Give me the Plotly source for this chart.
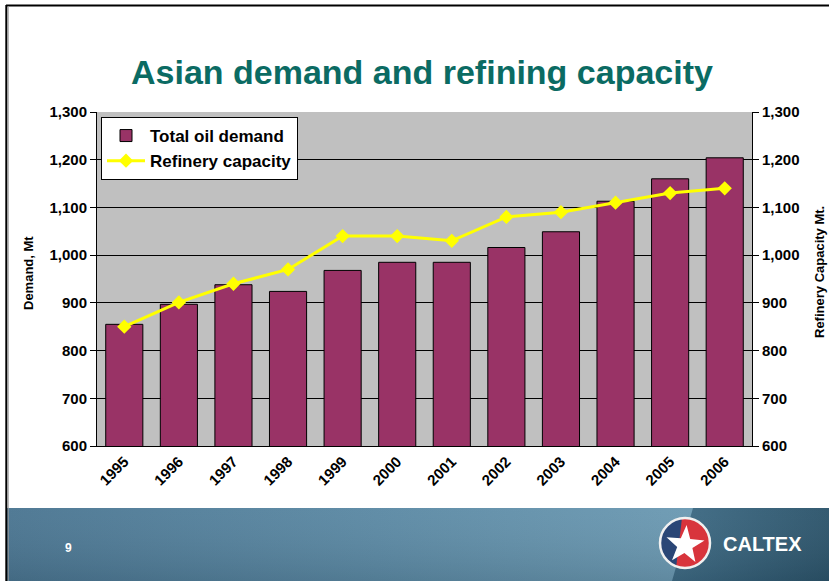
import base64
import math
import plotly.graph_objects as go

# ---- data -------------------------------------------------------------
years = ["1995", "1996", "1997", "1998", "1999", "2000",
         "2001", "2002", "2003", "2004", "2005", "2006"]
oil_demand = [855, 897, 938, 924, 968, 985, 985, 1016, 1049, 1113, 1160, 1204]
refinery_capacity = [850, 901, 940, 970, 1040, 1040, 1030, 1080, 1090, 1110, 1130, 1140]

y_ticks = [600, 700, 800, 900, 1000, 1100, 1200, 1300]

# ---- page geometry (pixels) ------------------------------------------
W, H = 829, 581
PL, PR, PT, PB = 97, 752, 112, 446  # plot area edges


def px(x):
    return (x - PL) / (PR - PL)


def py(y):
    return (PB - y) / (PB - PT)


FONT = "Liberation Sans, Arial, sans-serif"

fig = go.Figure()

fig.add_trace(go.Bar(
    x=years, y=oil_demand, name="Total oil demand",
    marker=dict(color="#993366", line=dict(color="#000000", width=1)),
    yaxis="y",
))
fig.add_trace(go.Scatter(
    x=years, y=refinery_capacity, name="Refinery capacity",
    mode="lines+markers",
    line=dict(color="#FFFF00", width=3),
    marker=dict(symbol="diamond", size=11, color="#FFFF00"),
    yaxis="y2",
))

axis_common = dict(
    range=[600, 1300], tickvals=y_ticks, tickformat=",d",
    ticks="outside", ticklen=6, tickcolor="#000000",
    showline=True, linecolor="#000000", linewidth=1,
    tickfont=dict(family=FONT, size=15, color="#000000", weight="bold"),
    zeroline=False, fixedrange=True,
)

fig.update_layout(
    width=W, height=H,
    margin=dict(l=PL, r=W - PR, t=PT, b=H - PB),
    paper_bgcolor="#FFFFFF",
    plot_bgcolor="#C0C0C0",
    bargap=0.32,
    title=dict(
        text="Asian demand and refining capacity",
        x=0.509, xref="container", xanchor="center",
        y=1 - 72 / H, yref="container", yanchor="middle",
        font=dict(family=FONT, size=34, color="#0B6B63", weight="bold"),
    ),
    xaxis=dict(
        range=[-0.5, len(years) - 0.5],
        showline=True, linecolor="#000000", linewidth=1,
        tickangle=-45, ticks="",
        tickfont=dict(family=FONT, size=15, color="#000000", weight="bold"),
        showgrid=False, fixedrange=True,
    ),
    yaxis=dict(showgrid=True, gridcolor="#000000", gridwidth=1, **axis_common),
    yaxis2=dict(overlaying="y", side="right", showgrid=False, **axis_common),
    legend=dict(
        x=px(101), y=py(117), xanchor="left", yanchor="top",
        bgcolor="#FFFFFF", bordercolor="#000000", borderwidth=1,
        font=dict(family=FONT, size=17, color="#000000", weight="bold"),
        itemwidth=38, tracegroupgap=0,
    ),
    showlegend=True,
)

# ---- axis titles -------------------------------------------------------
fig.add_annotation(
    text="Demand, Mt", textangle=-90, showarrow=False,
    xref="paper", yref="paper", x=px(28), y=py(273),
    xanchor="center", yanchor="middle",
    font=dict(family=FONT, size=13, color="#000000", weight="bold"),
)
fig.add_annotation(
    text="Refinery Capacity Mt.", textangle=-90, showarrow=False,
    xref="paper", yref="paper", x=px(819), y=py(272),
    xanchor="center", yanchor="middle",
    font=dict(family=FONT, size=13, color="#000000", weight="bold"),
)

# ---- footer banner with logo ------------------------------------------
BX, BY = 7, 508
BW, BH = W - BX, H - BY
cx, cy, r = 685 - BX, 543 - BY, 25

star_pts = []
for k in range(10):
    ang = -math.pi / 2 + k * math.pi / 5 + 0.08
    rad = 20 if k % 2 == 0 else 8
    star_pts.append(f"{cx + rad * math.cos(ang):.1f},{cy + 2 + rad * math.sin(ang):.1f}")
star = " ".join(star_pts)

svg = f"""<svg xmlns='http://www.w3.org/2000/svg' width='{BW}' height='{BH}' viewBox='0 0 {BW} {BH}'>
<defs>
<linearGradient id='a' x1='0' y1='0' x2='1' y2='0'>
<stop offset='0' stop-color='#4a7591'/>
<stop offset='0.45' stop-color='#5b89a4'/>
<stop offset='0.8' stop-color='#6a98b1'/>
<stop offset='1' stop-color='#70a0b8'/>
</linearGradient>
<linearGradient id='b' x1='0' y1='0' x2='1' y2='0'>
<stop offset='0' stop-color='#3e6b85'/>
<stop offset='1' stop-color='#2c546b'/>
</linearGradient>
<linearGradient id='v' x1='0' y1='0' x2='0' y2='1'>
<stop offset='0' stop-color='#ffffff' stop-opacity='0.04'/>
<stop offset='1' stop-color='#000000' stop-opacity='0.10'/>
</linearGradient>
<clipPath id='c'><circle cx='{cx}' cy='{cy}' r='{r}'/></clipPath>
</defs>
<rect width='{BW}' height='{BH}' fill='url(#a)'/>
<polygon points='{693 - BX},0 {BW},0 {BW},{BH} {672 - BX},{BH}' fill='url(#b)'/>
<rect width='{BW}' height='{BH}' fill='url(#v)'/>
<circle cx='{cx}' cy='{cy}' r='{r}' fill='#d8343c'/>
<g clip-path='url(#c)'>
<polygon points='{cx - r},{cy - r} {cx - 3},{cy - r} {cx - 9},{cy + r} {cx - r},{cy + r}' fill='#2a4676'/>
</g>
<polygon points='{star}' fill='#ffffff'/>
<circle cx='{cx}' cy='{cy}' r='{r}' fill='none' stroke='#f0f0f0' stroke-width='2.5'/>
</svg>"""

uri = "data:image/svg+xml;base64," + base64.b64encode(svg.encode()).decode()
fig.add_layout_image(
    source=uri, xref="paper", yref="paper",
    x=px(BX), y=py(BY), sizex=BW / (PR - PL), sizey=BH / (PB - PT),
    xanchor="left", yanchor="top", sizing="stretch", layer="above",
)

fig.add_annotation(
    text="9", showarrow=False, xref="paper", yref="paper",
    x=px(68), y=py(548), xanchor="center", yanchor="middle",
    font=dict(family=FONT, size=12, color="#FFFFFF", weight="bold"),
)
fig.add_annotation(
    text="CALTEX", showarrow=False, xref="paper", yref="paper",
    x=px(762), y=py(544), xanchor="center", yanchor="middle",
    font=dict(family=FONT, size=20, color="#FFFFFF", weight="bold"),
)

# ---- slide frame ------------------------------------------------------
fig.add_shape(type="line", xref="paper", yref="paper",
              x0=px(6), x1=px(W), y0=py(5.5), y1=py(5.5),
              line=dict(color="#000000", width=2))
fig.add_shape(type="line", xref="paper", yref="paper",
              x0=px(8.2), x1=px(8.2), y0=py(6), y1=py(H),
              line=dict(color="#9a9a9a", width=1))
fig.add_shape(type="line", xref="paper", yref="paper",
              x0=px(6.3), x1=px(6.3), y0=py(5), y1=py(H),
              line=dict(color="#000000", width=2))

fig.write_html("out.html")
